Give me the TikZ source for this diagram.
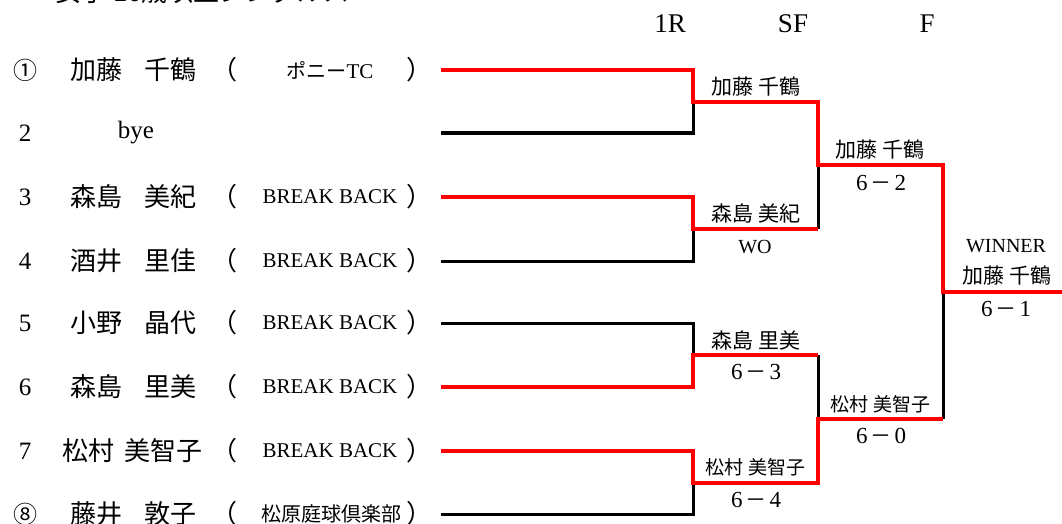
\documentclass[tikz,border=0pt]{standalone}
\usepackage{fontspec}
\setmainfont{Liberation Serif}
\newfontfamily\cjk{Noto Sans CJK JP}
\newcommand{\sco}[2]{{\fontsize{23}{26}\selectfont #1\hspace{3pt}{\cjk\fontsize{21}{24}\selectfont －}\hspace{3pt}#2}}
\begin{document}
\begin{tikzpicture}[x=1pt,y=-1pt,
  win/.style={draw=red,line width=4pt},
  lose/.style={draw=black,line width=3pt},
  num/.style={inner sep=0pt,font=\fontsize{25}{27}\selectfont},
  pname/.style={inner sep=0pt,anchor=west,font=\cjk\fontsize{26}{28}\selectfont},
  paren/.style={inner sep=0pt,font=\cjk\fontsize{26}{28}\selectfont},
  club/.style={inner sep=0pt,font=\fontsize{21}{24}\selectfont},
  clubj/.style={inner sep=0pt,font=\cjk\fontsize{20}{22}\selectfont},
  lab/.style={inner sep=0pt,font=\cjk\fontsize{21}{24}\selectfont},
  labs/.style={inner sep=0pt,font=\cjk\fontsize{19}{22}\selectfont},
  head/.style={inner sep=0pt,font=\fontsize{27}{30}\selectfont},
  sc/.style={inner sep=0pt}]
\useasboundingbox (0,0) rectangle (1062,524);
% title (cut off at the top)
\node[inner sep=0pt,anchor=south west,font=\cjk\fontsize{26}{28}\selectfont] (title) at (55,4) {女子 16歳以上シングルス};
% headers
\node[head] (h1) at (670,24) {1R};
\node[head] (h2) at (793,24) {SF};
\node[head] (h3) at (927,24) {F};
% player rows
\foreach \i/\y in {1/70,2/133,3/197,4/261,5/323,6/387,7/451,8/514}{
  \coordinate (p\i) at (441,\y);
}
\node[num,font=\cjk\fontsize{24}{26}\selectfont] (n1) at (25,70) {①};
\node[num] (n2) at (25,133) {2};
\node[num] (n3) at (25,197) {3};
\node[num] (n4) at (25,261) {4};
\node[num] (n5) at (25,323) {5};
\node[num] (n6) at (25,387) {6};
\node[num] (n7) at (25,451) {7};
\node[num,font=\cjk\fontsize{24}{26}\selectfont] (n8) at (25,514) {⑧};
\node[pname] (a1) at (70,70) {加藤\hspace{22pt}千鶴};
\node[num] (a2) at (136,133) {bye};
\node[pname] (a3) at (70,197) {森島\hspace{22pt}美紀};
\node[pname] (a4) at (70,261) {酒井\hspace{22pt}里佳};
\node[pname] (a5) at (70,323) {小野\hspace{22pt}晶代};
\node[pname] (a6) at (70,387) {森島\hspace{22pt}里美};
\node[pname] (a7) at (62,451) {松村\hspace{10pt}美智子};
\node[pname] (a8) at (70,514) {藤井\hspace{22pt}敦子};
\foreach \i/\y in {1/70,3/197,4/261,5/323,6/387,7/451,8/514}{
  \node[paren] (lp\i) at (224,\y) {（};
  \node[paren] (rp\i) at (419,\y) {）};
}
\node[clubj] (c1) at (330,70) {ポニー{\rmfamily\fontsize{21}{24}\selectfont TC}};
\foreach \i/\y in {3/197,4/261,5/323,6/387,7/451}{
  \node[club] (c\i) at (330,\y) {BREAK BACK};
}
\node[clubj] (c8) at (331,514) {松原庭球倶楽部};
% junctions
\coordinate (m1) at (693,102);
\coordinate (m2) at (693,229);
\coordinate (m3) at (693,355);
\coordinate (m4) at (693,483);
\coordinate (s1) at (818,165);
\coordinate (s2) at (818,419);
\coordinate (f) at (943,292);
\coordinate (fe) at (1062,292);
% losing lines
\draw[lose] (p2) -- (p2 -| m1) -- (m1);
\draw[lose] (p4) -- (p4 -| m2) -- (m2);
\draw[lose] (p5) -- (p5 -| m3) -- (m3);
\draw[lose] (p8) -- (p8 -| m4) -- (m4);
\draw[lose] (m2 -| s1) -- (s1);
\draw[lose] (m3 -| s2) -- (s2);
\draw[lose] (s2 -| f) -- (f);
% winning lines
\draw[win] (p1) -- (p1 -| m1) -- (m1) -- (m1 -| s1) -- (s1) -- (s1 -| f) -- (f) -- (fe);
\draw[win] (p3) -- (p3 -| m2) -- (m2) -- (m2 -| s1);
\draw[win] (p6) -- (p6 -| m3) -- (m3) -- (m3 -| s2);
\draw[win] (p7) -- (p7 -| m4) -- (m4) -- (m4 -| s2) -- (s2) -- (s2 -| f);
% match labels
\node[lab] (w1) at (756,87) {加藤\hspace{6pt}千鶴};
\node[lab] (w2) at (756,213) {森島\hspace{6pt}美紀};
\node[inner sep=0pt,font=\fontsize{20}{22}\selectfont] (r2) at (755,247) {WO};
\node[lab] (w3) at (756,340) {森島\hspace{6pt}里美};
\node[sc] (r3) at (756,372) {\sco{6}{3}};
\node[labs] (w4) at (755,467) {松村\hspace{5pt}美智子};
\node[sc] (r4) at (756,500) {\sco{6}{4}};
\node[lab] (w5) at (880,150) {加藤\hspace{6pt}千鶴};
\node[sc] (r5) at (881,183) {\sco{6}{2}};
\node[labs] (w6) at (880,404) {松村\hspace{5pt}美智子};
\node[sc] (r6) at (881,436) {\sco{6}{0}};
\node[inner sep=0pt,font=\fontsize{20}{22}\selectfont] (win) at (1006,246) {WINNER};
\node[lab] (w7) at (1007,276) {加藤\hspace{6pt}千鶴};
\node[sc] (r7) at (1006,309) {\sco{6}{1}};
\end{tikzpicture}
\end{document}
